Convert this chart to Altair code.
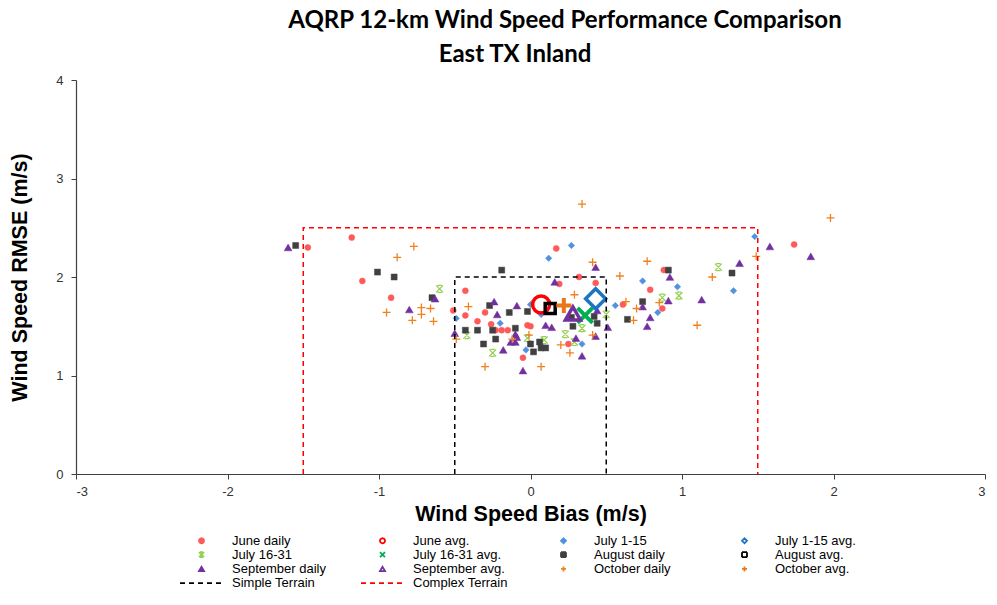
import altair as alt
import pandas as pd

# ---------------- data ----------------
SERIES = ["June daily", "June avg.", "July 1-15", "July 1-15 avg.",
          "July 16-31", "July 16-31 avg.", "August daily", "August avg.",
          "September daily", "September avg.", "October daily", "October avg.",
          "Simple Terrain", "Complex Terrain"]

june_bias = [-1.47, -1.18, -1.11, -0.92, -0.43, -0.51, -0.43, -0.35, -0.30, -0.26, -0.23, -0.19, -0.15,
             -0.02, 0.00, -0.05, 0.17, 0.32, 0.43, 0.19, 0.25, 0.61, 0.79, 0.88, 0.87, 1.74]
june_rmse = [2.30, 2.40, 1.96, 1.79, 1.86, 1.66, 1.61, 1.55, 1.64, 1.52, 1.46, 1.46, 1.46,
             1.51, 1.50, 1.18, 2.29, 2.00, 1.94, 1.93, 1.32, 1.72, 1.87, 2.07, 1.68, 2.33]

july1_bias = [-0.49, 0.00, -0.20, -0.03, 0.07, 0.12, 0.27, 0.34, 0.56, 0.74, 0.84, 0.97, 1.34, 1.48]
july1_rmse = [1.58, 1.72, 1.53, 1.26, 1.62, 2.19, 2.32, 1.32, 1.71, 1.96, 1.64, 1.90, 1.86, 2.41]

july2_bias = [-0.60, -0.42, -0.25, -0.02, 0.09, 0.23, 0.29, 0.34, 0.50, 0.87, 0.98, 1.24]
july2_rmse = [1.88, 1.41, 1.23, 1.38, 1.36, 1.42, 1.34, 1.48, 1.62, 1.79, 1.81, 2.10]

aug_bias = [-1.55, -1.01, -0.90, -0.65, -0.27, -0.43, -0.35, -0.25, -0.31, -0.19, -0.14, -0.02, -0.10,
            -0.23, 0.00, 0.06, 0.07, 0.10, 0.02, 0.28, 0.44, 0.42, 0.27, 0.64, 0.74, 0.91, 1.33]
aug_rmse = [2.32, 2.05, 2.00, 1.79, 1.71, 1.46, 1.46, 1.46, 1.32, 2.07, 1.64, 1.65, 1.48,
            1.37, 1.32, 1.34, 1.28, 1.28, 1.24, 1.50, 1.53, 1.60, 1.59, 1.57, 1.75, 2.07, 2.04]

sep_bias = [-1.60, -0.63, -0.80, -0.24, -0.50, -0.22, -0.09, -0.10, -0.09, -0.13, -0.10, -0.18, -0.05,
            0.10, 0.14, 0.16, 0.43, 0.30, 0.34, 0.43, 0.51, 0.44, 0.74, 0.79, 0.77, 0.92, 0.91,
            1.13, 1.38, 1.58, 1.85]
sep_rmse = [2.30, 1.78, 1.67, 1.75, 1.43, 1.62, 1.71, 1.42, 1.39, 1.34, 1.34, 1.26, 1.05,
            1.51, 1.49, 1.95, 2.10, 1.38, 1.20, 1.40, 1.49, 1.66, 1.70, 1.59, 1.50, 2.00, 1.76,
            1.77, 2.14, 2.31, 2.21]

oct_bias = [-0.77, -0.88, -0.95, -0.72, -0.66, -0.72, -0.78, -0.64, -0.41, -0.49, -0.30, -0.12, -0.01,
            0.07, 0.20, 0.26, 0.29, 0.34, 0.41, 0.41, 0.59, 0.63, 0.70, 0.68, 0.77, 0.85, 1.10,
            1.20, 1.49, 1.98]
oct_rmse = [2.31, 2.20, 1.64, 1.69, 1.68, 1.62, 1.56, 1.55, 1.70, 1.37, 1.09, 1.37, 1.41,
            1.09, 1.31, 1.23, 1.82, 2.74, 2.15, 1.41, 2.01, 1.75, 1.68, 1.56, 2.16, 1.74, 1.51,
            2.00, 2.21, 2.60]

avg_names = ["June avg.", "July 1-15 avg.", "July 16-31 avg.", "August avg.", "September avg.", "October avg."]
avg_bias = [0.07, 0.43, 0.36, 0.13, 0.28, 0.22]
avg_rmse = [1.72, 1.78, 1.61, 1.68, 1.63, 1.71]

simple_x = [-0.5, -0.5, 0.5, 0.5]
simple_y = [0.0, 2.0, 2.0, 0.0]
complex_x = [-1.5, -1.5, 1.5, 1.5]
complex_y = [0.0, 2.5, 2.5, 0.0]

TITLE = "AQRP 12-km Wind Speed Performance Comparison"
SUBTITLE = "East TX Inland"

# ---------------- tables ----------------
rows = []
for name, bs, rs in [("June daily", june_bias, june_rmse), ("July 1-15", july1_bias, july1_rmse),
                     ("July 16-31", july2_bias, july2_rmse), ("August daily", aug_bias, aug_rmse),
                     ("September daily", sep_bias, sep_rmse), ("October daily", oct_bias, oct_rmse)]:
    for b, r in zip(bs, rs):
        rows.append({"series": name, "bias": b, "rmse": r})
for name, b, r in zip(avg_names, avg_bias, avg_rmse):
    rows.append({"series": name, "bias": b, "rmse": r})
pts = pd.DataFrame(rows)
pts["idx"] = pts["series"].map(SERIES.index)

box_rows = []
for name, xs, ys in [("Simple Terrain", simple_x, simple_y), ("Complex Terrain", complex_x, complex_y)]:
    for k, (x, y) in enumerate(zip(xs, ys)):
        box_rows.append({"series": name, "bias": x, "rmse": y, "k": k})
boxes = pd.DataFrame(box_rows)

# ---------------- styles ----------------
X_DAILY = "M-1,-1L1,1M-1,1L1,-1M-0.6,-1H0.6M-0.6,1H0.6"
X_AVG = "M-1,-1L1,1M-1,1L1,-1"
PLUS = "M-1,0H1M0,-1V1"
DASH = "M-8.6,0H8.6"

SHAPES = ["circle", "circle", "diamond", "diamond", X_DAILY, X_AVG, "square", "square",
          "triangle-up", "triangle-up", PLUS, PLUS, DASH, DASH]
STROKES = ["#FF5A5A", "#FF0000", "#4F93DE", "#1C75C4", "#92D050", "#00B050", "#404040", "#000000",
           "#7030A0", "#7030A0", "#F0821E", "#E8761A", "#000000", "#FF0000"]
FILLS = ["#FF5A5A", "transparent", "#4F93DE", "transparent", "transparent", "transparent", "#404040",
         "transparent", "#7030A0", "transparent", "transparent", "transparent", "transparent", "transparent"]
DASHES = [[1, 0]] * 12 + [[5, 4], [5, 4]]
SIZES = [36, 289, 42, 400, 49, 225, 36, 100, 60, 225, 64, 225, 36, 36]
WIDTHS = [0.5, 3.5, 0.5, 3.5, 1.2, 4, 0.5, 3.5, 0.5, 3.5, 1.3, 4, 1.5, 1.5]
THRESH = [i + 0.5 for i in range(13)]

FONT = "Liberation Sans"

xenc = alt.X("bias:Q", scale=alt.Scale(domain=[-3, 3], nice=False, zero=False),
             axis=alt.Axis(values=[-3, -2, -1, 0, 1, 2, 3], title="Wind Speed Bias (m/s)",
                           labelExpr="datum.value + ''", grid=False, tickSize=5,
                           labelPadding=6, titlePadding=5))
yenc = alt.Y("rmse:Q", scale=alt.Scale(domain=[0, 4], nice=False),
             axis=alt.Axis(values=[0, 1, 2, 3, 4], title="Wind Speed RMSE (m/s)",
                           grid=False, tickSize=5, labelPadding=8, titlePadding=24))

stroke_scale = alt.Scale(domain=SERIES, range=STROKES)

points = alt.Chart(pts).mark_point(opacity=1).encode(
    x=xenc,
    y=yenc,
    fill=alt.Fill("series:N", scale=alt.Scale(domain=SERIES, range=FILLS), title=None),
    stroke=alt.Stroke("series:N", scale=stroke_scale, title=None),
    shape=alt.Shape("series:N", scale=alt.Scale(domain=SERIES, range=SHAPES), title=None),
    size=alt.Size("idx:Q", scale=alt.Scale(type="threshold", domain=THRESH, range=SIZES), legend=None),
    strokeWidth=alt.StrokeWidth("idx:Q", scale=alt.Scale(type="threshold", domain=THRESH, range=WIDTHS),
                                legend=None),
)

lines = alt.Chart(boxes).mark_line(strokeWidth=1.5).encode(
    x=xenc,
    y=yenc,
    stroke=alt.Stroke("series:N", scale=stroke_scale, title=None),
    strokeDash=alt.StrokeDash("series:N", scale=alt.Scale(domain=SERIES, range=DASHES), title=None),
    order="k:Q",
)

title1 = alt.Chart(alt.Data(values=[{}])).mark_text(
    text=TITLE, font="Lato", fontSize=24, fontWeight="bold", align="center", baseline="alphabetic",
    color="#000000").encode(x=alt.value(489), y=alt.value(-52))
title2 = alt.Chart(alt.Data(values=[{}])).mark_text(
    text=SUBTITLE, font="Lato", fontSize=24, fontWeight="bold", align="center", baseline="alphabetic",
    color="#000000").encode(x=alt.value(439), y=alt.value(-18))

chart = alt.layer(points, lines, title1, title2).properties(
    width=909, height=394,
    padding={"left": 68, "top": 72, "right": 4, "bottom": 116},
    autosize=alt.AutoSizeParams(type="none"),
).configure_view(stroke=None).configure_axis(
    labelFont=FONT, labelFontSize=13, labelColor="#333333",
    titleFont=FONT, titleFontSize=21.5, titleFontWeight="bold", titleColor="#000000",
    domainColor="#404040", tickColor="#404040", domainWidth=1.2,
).configure_point(strokeWidth=1.8).configure_legend(
    orient="none", legendX=104, legendY=454, direction="horizontal", columns=4, gridAlign="all",
    columnPadding=30, rowPadding=0.2, padding=0,
    labelFont=FONT, labelFontSize=13, labelColor="#000000", labelLimit=300,
    symbolSize=25, symbolStrokeWidth=1.8, symbolOffset=15, labelOffset=24,
)

chart.save("out.html", embed_options={"renderer": "svg", "actions": False})
